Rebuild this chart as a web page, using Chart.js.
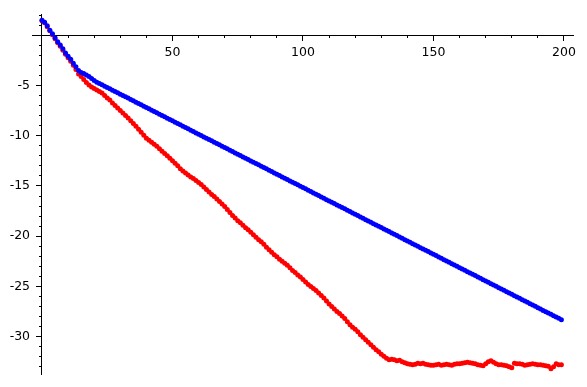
<!DOCTYPE html>
<html>
<head>
<meta charset="utf-8">
<script src="https://cdn.jsdelivr.net/npm/chart.js@4.4.1/dist/chart.umd.min.js"></script>
<style>
  body { margin: 0; background: #fff; }
  #wrap { width: 587px; height: 387px; }
</style>
</head>
<body>
<div id="wrap"><canvas id="plot" width="587" height="387"></canvas></div>
<script>
// x positions 0..199, one point per step
const xValues = Array.from({ length: 200 }, (_, i) => i);

const blueValues = [
  1.5, 1.3, 0.95, 0.5, 0.15, -0.25, -0.65, -0.98, -1.35, -1.78,
  -2.1, -2.4, -2.8, -3.15, -3.5, -3.7, -3.82, -3.95, -4.1, -4.3,
  -4.5, -4.67, -4.8, -4.94, -5.07, -5.2, -5.33, -5.47, -5.6, -5.73,
  -5.87, -6.0, -6.13, -6.26, -6.4, -6.53, -6.66, -6.79, -6.93, -7.06,
  -7.19, -7.33, -7.46, -7.59, -7.72, -7.86, -7.99, -8.12, -8.26, -8.39,
  -8.52, -8.65, -8.79, -8.92, -9.05, -9.19, -9.32, -9.45, -9.58, -9.72,
  -9.85, -9.98, -10.12, -10.25, -10.38, -10.51, -10.65, -10.78, -10.91, -11.04,
  -11.18, -11.31, -11.44, -11.58, -11.71, -11.84, -11.97, -12.11, -12.24, -12.37,
  -12.51, -12.64, -12.77, -12.9, -13.04, -13.17, -13.3, -13.43, -13.57, -13.7,
  -13.83, -13.97, -14.1, -14.23, -14.36, -14.5, -14.63, -14.76, -14.89, -15.03,
  -15.16, -15.29, -15.43, -15.56, -15.69, -15.82, -15.96, -16.09, -16.22, -16.36,
  -16.49, -16.62, -16.75, -16.89, -17.02, -17.15, -17.28, -17.42, -17.55, -17.68,
  -17.82, -17.95, -18.08, -18.21, -18.35, -18.48, -18.61, -18.75, -18.88, -19.01,
  -19.14, -19.28, -19.41, -19.54, -19.67, -19.81, -19.94, -20.07, -20.21, -20.34,
  -20.47, -20.61, -20.74, -20.87, -21.0, -21.14, -21.27, -21.4, -21.53, -21.67,
  -21.8, -21.93, -22.07, -22.2, -22.33, -22.46, -22.6, -22.73, -22.86, -22.99,
  -23.13, -23.26, -23.39, -23.53, -23.66, -23.79, -23.92, -24.06, -24.19, -24.32,
  -24.46, -24.59, -24.72, -24.85, -24.99, -25.12, -25.25, -25.38, -25.52, -25.65,
  -25.78, -25.92, -26.05, -26.18, -26.31, -26.45, -26.58, -26.71, -26.84, -26.98,
  -27.11, -27.24, -27.38, -27.51, -27.64, -27.77, -27.91, -28.04, -28.17, -28.3
];

const redValues = [
  1.45, 1.25, 0.85, 0.45, 0.05, -0.35, -0.75, -1.1, -1.5, -1.9,
  -2.25, -2.6, -3.0, -3.4, -3.85, -4.1, -4.4, -4.7, -4.95, -5.15,
  -5.3, -5.45, -5.6, -5.75, -6.0, -6.25, -6.45, -6.75, -7.0, -7.25,
  -7.5, -7.75, -8.0, -8.25, -8.5, -8.78, -9.05, -9.35, -9.65, -9.95,
  -10.25, -10.45, -10.65, -10.85, -11.05, -11.3, -11.55, -11.78, -12.0, -12.25,
  -12.5, -12.75, -13.0, -13.3, -13.5, -13.7, -13.9, -14.1, -14.25, -14.45,
  -14.65, -14.85, -15.1, -15.35, -15.6, -15.85, -16.05, -16.3, -16.55, -16.8,
  -17.05, -17.35, -17.65, -17.95, -18.2, -18.45, -18.67, -18.9, -19.15, -19.35,
  -19.6, -19.85, -20.1, -20.35, -20.55, -20.8, -21.1, -21.35, -21.6, -21.85,
  -22.05, -22.3, -22.5, -22.7, -22.9, -23.15, -23.4, -23.6, -23.85, -24.05,
  -24.3, -24.55, -24.8, -25.0, -25.2, -25.4, -25.65, -25.9, -26.15, -26.45,
  -26.75, -27.0, -27.25, -27.5, -27.7, -27.95, -28.2, -28.5, -28.8, -29.05,
  -29.25, -29.5, -29.8, -30.05, -30.3, -30.55, -30.8, -31.05, -31.3, -31.5,
  -31.75, -31.95, -32.15, -32.3, -32.25, -32.3, -32.4, -32.35, -32.5, -32.6,
  -32.7, -32.75, -32.8, -32.75, -32.65, -32.7, -32.65, -32.75, -32.8, -32.85,
  -32.85, -32.8, -32.75, -32.85, -32.8, -32.75, -32.8, -32.85, -32.75, -32.7,
  -32.7, -32.65, -32.6, -32.55, -32.6, -32.65, -32.7, -32.8, -32.85, -32.9,
  -32.7, -32.5, -32.4, -32.55, -32.7, -32.8, -32.8, -32.85, -32.9, -33.0,
  -33.1, -32.65, -32.7, -32.7, -32.75, -32.85, -32.8, -32.75, -32.7, -32.75,
  -32.8, -32.8, -32.85, -32.9, -32.95, -33.2, -33.0, -32.7, -32.8, -32.8
];

// tick positions
const xMajorTicks = [50, 100, 150, 200];
const xMinorTicks = [10, 20, 30, 40, 60, 70, 80, 90, 110, 120, 130, 140, 160, 170, 180, 190];
const yMajorTicks = [-30, -25, -20, -15, -10, -5];
const yMinorTicks = [-33, -32, -31, -29, -28, -27, -26, -24, -23, -22, -21, -19, -18, -17, -16,
  -14, -13, -12, -11, -9, -8, -7, -6, -4, -3, -2, -1, 1, 2];

const X_MIN = -3.83, X_MAX = 203.45;
const Y_MIN = -33.71, Y_MAX = 2.11;

const toPoints = vals => vals.map((v, i) => ({ x: xValues[i], y: v }));
const setTicks = list => axis => { axis.ticks = list.map(v => ({ value: v })); };

const labelFont = { family: "DejaVu Sans", size: 12.5 };

new Chart(document.getElementById("plot"), {
  type: "scatter",
  data: {
    datasets: [
      {
        label: "blue",
        data: toPoints(blueValues),
        backgroundColor: "#0000ff",
        borderWidth: 0,
        pointRadius: 2.5,
        xAxisID: "x",
        yAxisID: "y"
      },
      {
        label: "red",
        data: toPoints(redValues),
        backgroundColor: "#ff0000",
        borderWidth: 0,
        pointRadius: 2.5,
        xAxisID: "x",
        yAxisID: "y"
      }
    ]
  },
  options: {
    responsive: false,
    animation: false,
    events: [],
    layout: { padding: { left: 32, right: 14, top: 14, bottom: 13 } },
    plugins: { legend: { display: false }, tooltip: { enabled: false } },
    scales: {
      x: {
        type: "linear",
        min: X_MIN, max: X_MAX,
        position: { y: 0 },
        afterBuildTicks: setTicks(xMajorTicks),
        grid: { drawOnChartArea: false, tickLength: 5, tickColor: "#000" },
        border: { color: "#000", width: 1 },
        ticks: { autoSkip: false, maxRotation: 0, padding: 5, color: "#000", font: labelFont,
          callback: v => String(v) }
      },
      x2: {
        type: "linear",
        axis: "x",
        min: X_MIN, max: X_MAX,
        position: { y: 0 },
        afterBuildTicks: setTicks(xMinorTicks),
        grid: { drawOnChartArea: false, tickLength: 3, tickColor: "#000" },
        border: { display: false },
        ticks: { display: false, autoSkip: false }
      },
      y: {
        type: "linear",
        min: Y_MIN, max: Y_MAX,
        position: { x: 0 },
        afterBuildTicks: setTicks(yMajorTicks),
        grid: { drawOnChartArea: false, tickLength: 5, tickColor: "#000" },
        border: { color: "#000", width: 1 },
        // labels sit right-aligned on the axis line, so pad them with spaces
        ticks: { autoSkip: false, color: "#000", font: labelFont,
          callback: v => String(v) + "   " }
      },
      y2: {
        type: "linear",
        axis: "y",
        min: Y_MIN, max: Y_MAX,
        position: { x: 0 },
        afterBuildTicks: setTicks(yMinorTicks),
        grid: { drawOnChartArea: false, tickLength: 3, tickColor: "#000" },
        border: { display: false },
        ticks: { display: false, autoSkip: false }
      }
    }
  }
});
</script>
</body>
</html>
